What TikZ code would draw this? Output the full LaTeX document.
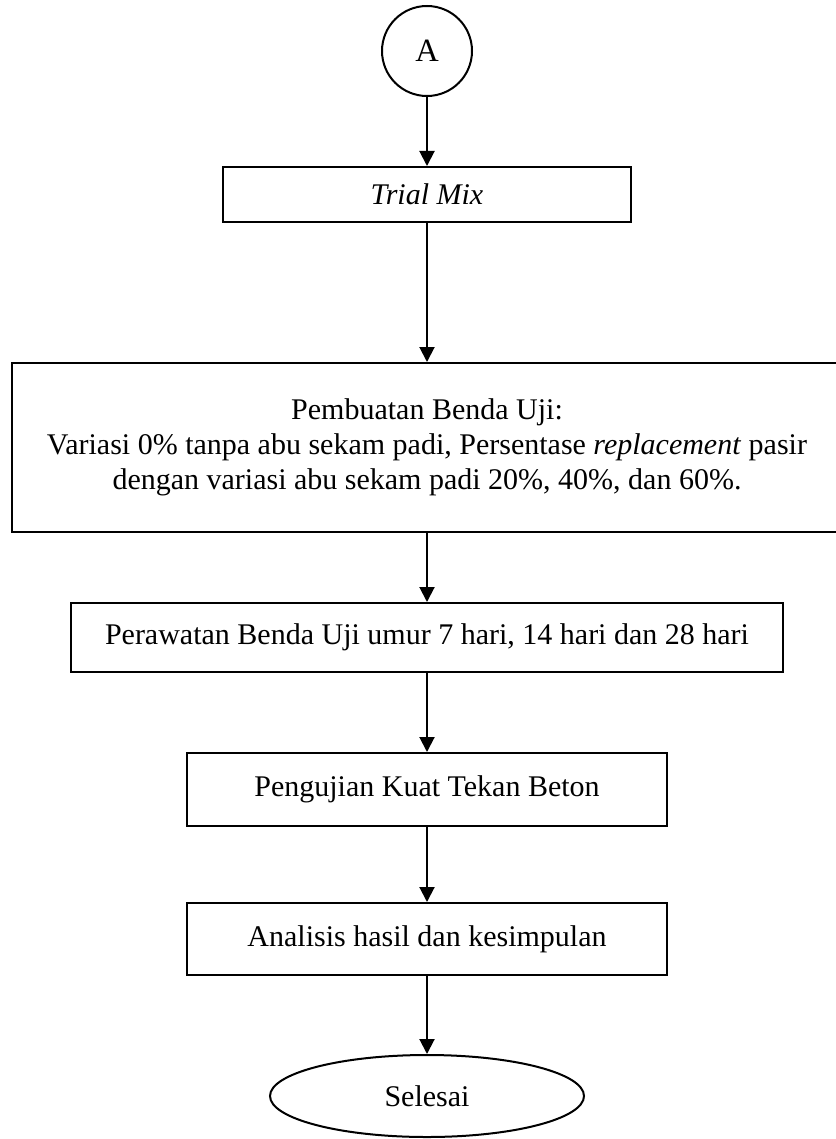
\documentclass[tikz,border=0pt]{standalone}
\usepackage{fontspec}
\setmainfont{Liberation Serif}
\usetikzlibrary{arrows.meta,positioning,shapes.geometric}

\begin{document}
\begin{tikzpicture}[
  x=0.4pt, y=-0.4pt,
  >={Triangle[width=6pt,length=6pt]},
  font=\fontsize{12pt}{14pt}\selectfont,
  stepbox/.style={draw, line width=0.8pt, align=center, inner sep=2pt},
  flow/.style={->, line width=0.8pt},
]
  \useasboundingbox (0,0) rectangle (835,1139);

  %% Connector A
  \node[circle, draw, line width=0.8pt, minimum size=36pt, inner sep=0pt,
        font=\fontsize{13pt}{15pt}\selectfont]
    (conA) at (427, 51) {A};

  %% Process steps
  \node[stepbox, minimum width=163.2pt, minimum height=22pt]
    (trial) at (427, 194.5) {\textit{Trial Mix}};

  \node[stepbox, minimum width=332pt, minimum height=67.6pt]
    (buat) at (427, 447.5)
    {Pembuatan Benda Uji:\\
     Variasi 0\% tanpa abu sekam padi, Persentase \textit{replacement} pasir\\
     dengan variasi abu sekam padi 20\%, 40\%, dan 60\%.};

  \node[stepbox, minimum width=284.8pt, minimum height=27.6pt]
    (rawat) at (427, 637.5) {Perawatan Benda Uji umur 7 hari, 14 hari dan 28 hari};

  \node[stepbox, minimum width=192pt, minimum height=29.2pt]
    (uji) at (427, 789.5) {Pengujian Kuat Tekan Beton};

  \node[stepbox, minimum width=192pt, minimum height=28.8pt]
    (analisis) at (427, 939) {Analisis hasil dan kesimpulan};

  %% End terminal
  \node[ellipse, draw, line width=0.8pt, minimum width=125.6pt, minimum height=32.8pt]
    (selesai) at (427, 1096) {Selesai};

  %% Flow arrows
  \draw[flow] (conA) -- (trial);
  \draw[flow] (trial) -- (buat);
  \draw[flow] (buat) -- (rawat);
  \draw[flow] (rawat) -- (uji);
  \draw[flow] (uji) -- (analisis);
  \draw[flow] (analisis) -- (selesai);
\end{tikzpicture}
\end{document}
